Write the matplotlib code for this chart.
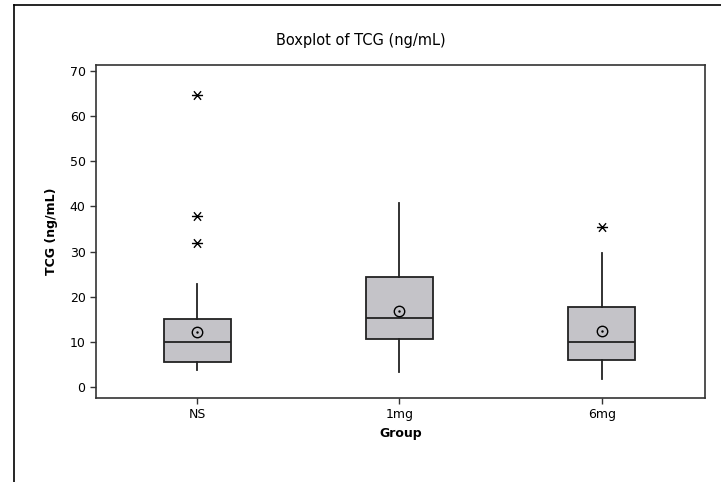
import numpy as np
import matplotlib.pyplot as plt
from matplotlib.lines import Line2D
from matplotlib.path import Path

# summary stats per group (ng/mL)
groups = ['NS', '1mg', '6mg']
q1 = [5.6, 10.6, 5.9]
med = [10.1, 15.4, 10.1]
q3 = [15.1, 24.3, 17.8]
whislo = [3.9, 3.3, 1.7]
whishi = [22.8, 40.7, 29.8]
means = [12.3, 16.9, 12.5]
outliers = [[64.7, 37.9, 31.8], [], [35.4]]

stats = []
for i, g in enumerate(groups):
    stats.append(dict(label=g, q1=q1[i], med=med[i], q3=q3[i],
                      whislo=whislo[i], whishi=whishi[i],
                      mean=means[i], fliers=outliers[i]))

# asterisk: horizontal bar with an X through it
a = np.deg2rad(50)
verts = [(-1, 0), (1, 0),
         (-np.cos(a), -np.sin(a)), (np.cos(a), np.sin(a)),
         (-np.cos(a), np.sin(a)), (np.cos(a), -np.sin(a))]
codes = [Path.MOVETO, Path.LINETO] * 3
star = Path(verts, codes)

plt.rcParams['font.family'] = ['DejaVu Sans']
fig = plt.figure(figsize=(7.21, 4.82), dpi=100)
ax = fig.add_axes([96 / 721, 1 - 398 / 482, 609 / 721, 333 / 482])

edge = '#222222'
ax.bxp(stats, positions=[1, 2, 3], widths=0.33, patch_artist=True,
       showmeans=True, showcaps=False,
       boxprops=dict(facecolor='#c4c3c8', edgecolor=edge, linewidth=1.3),
       medianprops=dict(color=edge, linewidth=1.3),
       whiskerprops=dict(color=edge, linewidth=1.3),
       flierprops=dict(marker=star, markersize=8, markeredgecolor='black',
                       markeredgewidth=1.0, linestyle='none'),
       meanprops=dict(marker='o', markersize=7.5, markerfacecolor='none',
                      markeredgecolor='black', markeredgewidth=1.0))
# centre dot of the mean symbol
ax.plot([1, 2, 3], means, linestyle='none', marker='.', markersize=1.5, color='black')

ax.set_xlim(0.5, 3.51)
ax.set_ylim(-2.4, 71.3)
ax.set_yticks(range(0, 71, 10))
ax.set_xticks([1, 2, 3])
ax.set_xticklabels(groups)
for s in ax.spines.values():
    s.set_color('#333333')
    s.set_linewidth(1.2)
ax.tick_params(direction='out', length=4, width=1, colors='#333333',
               labelsize=9, labelcolor='black')

ax.set_ylabel('TCG (ng/mL)', fontsize=9, fontweight='bold', labelpad=8)
ax.set_xlabel('Group', fontsize=9, fontweight='bold', labelpad=4)
fig.text(0.5, 1 - 41 / 482, 'Boxplot of TCG (ng/mL)', ha='center', va='center',
         fontsize=10.5)

# outer frame
fig.add_artist(Line2D([14 / 721, 14 / 721], [0, 1 - 5 / 482], color='black', linewidth=1.2,
                      transform=fig.transFigure))
fig.add_artist(Line2D([14 / 721, 1], [1 - 5 / 482, 1 - 5 / 482], color='black', linewidth=1.2,
                      transform=fig.transFigure))

fig.savefig('out.png', dpi=100)
